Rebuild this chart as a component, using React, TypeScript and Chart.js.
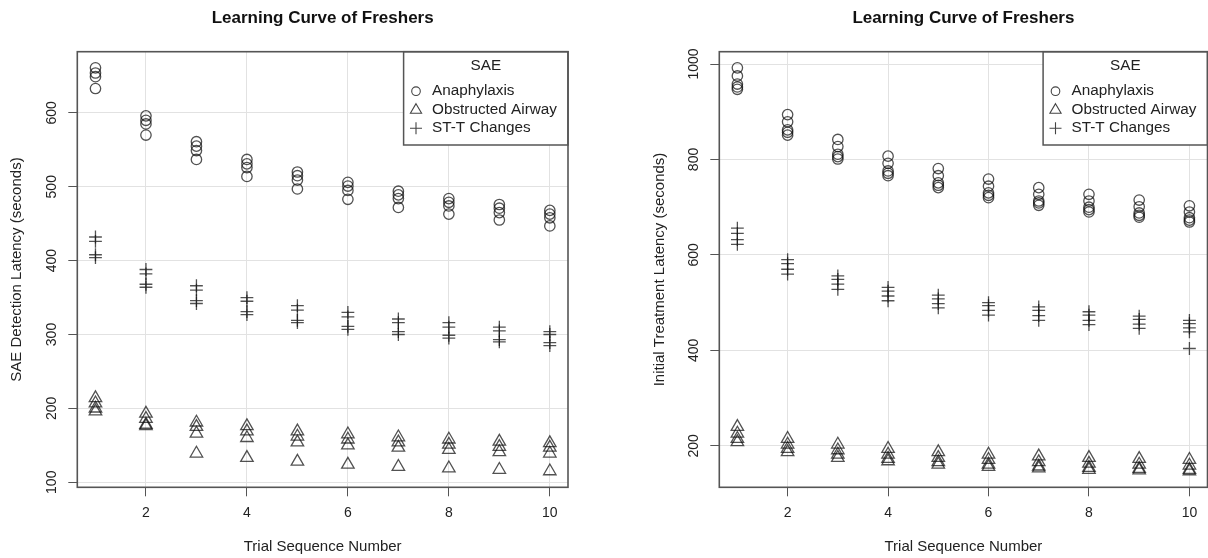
import React, { useEffect, useRef } from 'react';
import { Chart, registerables } from 'chart.js';

Chart.register(...registerables);

const FONT = '"Liberation Sans", Arial, Helvetica, sans-serif';

const trials = [1, 2, 3, 4, 5, 6, 7, 8, 9, 10];
const xTicks = [2, 4, 6, 8, 10];
const leftYTicks = [100, 200, 300, 400, 500, 600];
const rightYTicks = [200, 400, 600, 800, 1000];
const seriesNames = ['Anaphylaxis', 'Obstructed Airway', 'ST-T Changes'];
const chartTitle = 'Learning Curve of Freshers';
const xTitle = 'Trial Sequence Number';
const leftYTitle = 'SAE Detection Latency (seconds)';
const rightYTitle = 'Initial Treatment Latency (seconds)';
const legendTitle = 'SAE';

// SAE detection latency, one row per trial
const detectAnaphylaxis = [
  [661, 654, 649, 633],
  [596, 590, 585, 570],
  [561, 555, 549, 537],
  [537, 531, 526, 514],
  [520, 515, 509, 497],
  [506, 501, 495, 483],
  [494, 489, 484, 472],
  [484, 479, 474, 463],
  [476, 471, 465, 455],
  [468, 463, 458, 447],
];
const detectAirway = [
  [214, 207, 200, 196],
  [193, 186, 178, 176],
  [181, 175, 166, 139],
  [176, 169, 160, 133],
  [169, 162, 154, 128],
  [165, 158, 150, 124],
  [161, 154, 147, 121],
  [158, 151, 144, 119],
  [155, 148, 141, 117],
  [153, 147, 139, 115],
];
const detectSTT = [
  [432, 426, 408, 404],
  [388, 382, 368, 364],
  [366, 360, 346, 342],
  [350, 345, 331, 327],
  [339, 333, 319, 316],
  [330, 324, 311, 307],
  [321, 316, 304, 300],
  [316, 310, 299, 295],
  [310, 305, 293, 290],
  [304, 300, 289, 285],
];

// Initial treatment latency, one row per trial
const treatAnaphylaxis = [
  [992, 975, 958, 952, 947],
  [894, 879, 862, 857, 851],
  [842, 827, 811, 806, 801],
  [807, 792, 776, 771, 766],
  [781, 766, 751, 746, 741],
  [759, 744, 730, 725, 720],
  [741, 727, 713, 709, 704],
  [727, 713, 700, 695, 690],
  [715, 701, 688, 683, 679],
  [703, 690, 678, 673, 669],
];
const treatAirway = [
  [240, 226, 215, 208],
  [215, 203, 194, 187],
  [203, 191, 182, 175],
  [194, 182, 173, 168],
  [187, 175, 166, 161],
  [182, 171, 161, 156],
  [178, 166, 157, 153],
  [175, 163, 154, 150],
  [173, 161, 152, 149],
  [171, 159, 150, 147],
];
const treatSTT = [
  [656, 645, 632, 622],
  [590, 582, 570, 560],
  [556, 549, 539, 528],
  [532, 524, 514, 504],
  [516, 508, 498, 489],
  [500, 494, 484, 474],
  [491, 484, 473, 463],
  [481, 474, 463, 454],
  [472, 465, 455, 446],
  [463, 456, 447, 439, 404],
];

const POINT_COLOR = 'rgba(15,15,15,0.72)';
const BOX_COLOR = '#555';
const TEXT_COLOR = '#222';

function toPoints(rows: number[][]) {
  return trials.flatMap((t, i) => rows[i].map((v) => ({ x: t, y: v })));
}

function rRange(lo: number, hi: number) {
  const d = (hi - lo) * 0.04;
  return [lo - d, hi + d];
}

const boxPlugin = {
  id: 'rbox',
  afterDraw(chart: any) {
    const { ctx, chartArea: a } = chart;
    ctx.save();
    // legend
    const w = 164.4;
    const h = 93.3;
    const left = a.right - w;
    const top = a.top;
    ctx.fillStyle = '#fff';
    ctx.fillRect(left, top, w, h);
    ctx.strokeStyle = BOX_COLOR;
    ctx.lineWidth = 1.5;
    ctx.strokeRect(left, top, w, h);
    ctx.fillStyle = TEXT_COLOR;
    ctx.font = `15.3px ${FONT}`;
    ctx.textBaseline = 'middle';
    ctx.textAlign = 'center';
    ctx.fillText(legendTitle, left + w / 2, top + 14);
    ctx.textAlign = 'left';
    const rows = [39.5, 58, 76.5];
    const sx = left + 12.4;
    ctx.strokeStyle = '#444';
    ctx.lineWidth = 1.1;
    seriesNames.forEach((name, i) => {
      const y = top + rows[i];
      ctx.beginPath();
      if (i === 0) {
        ctx.arc(sx, y, 4.3, 0, Math.PI * 2);
      } else if (i === 1) {
        ctx.moveTo(sx, y - 6);
        ctx.lineTo(sx + 5.6, y + 3.6);
        ctx.lineTo(sx - 5.6, y + 3.6);
        ctx.closePath();
      } else {
        ctx.moveTo(sx - 6, y);
        ctx.lineTo(sx + 6, y);
        ctx.moveTo(sx, y - 6);
        ctx.lineTo(sx, y + 6);
      }
      ctx.stroke();
      ctx.fillText(name, left + 28.4, y);
    });
    // plot box
    ctx.strokeStyle = BOX_COLOR;
    ctx.lineWidth = 1.6;
    ctx.strokeRect(a.left, a.top, a.right - a.left, a.bottom - a.top);
    ctx.restore();
  },
};

type PanelProps = {
  left: number;
  width: number;
  yTitle: string;
  yTicks: number[];
  series: number[][][];
  yAxisWidth: number;
  yTitlePad: number;
  yTickPad: number;
  padRight: number;
};

function Panel(p: PanelProps) {
  const ref = useRef<HTMLCanvasElement>(null);
  useEffect(() => {
    const all = p.series.flatMap((s) => s.flat());
    const [ymin, ymax] = rRange(Math.min(...all), Math.max(...all));
    const [xmin, xmax] = rRange(trials[0], trials[trials.length - 1]);
    const styles: any[] = [
      { pointStyle: 'circle', pointRadius: 5.2 },
      { pointStyle: 'triangle', pointRadius: 7.2 },
      { pointStyle: 'cross', pointRadius: 6.4 },
    ];
    const chart = new Chart(ref.current as HTMLCanvasElement, {
      type: 'scatter',
      data: {
        datasets: p.series.map((rows, i) => ({
          label: seriesNames[i],
          data: toPoints(rows),
          ...styles[i],
          borderColor: POINT_COLOR,
          backgroundColor: 'rgba(0,0,0,0)',
          borderWidth: 1.3,
        })),
      },
      options: {
        responsive: false,
        animation: false,
        devicePixelRatio: 1,
        layout: { padding: { left: 0, right: p.padRight, top: 0, bottom: 0 } },
        plugins: {
          legend: { display: false },
          tooltip: { enabled: false },
          title: {
            display: true,
            text: chartTitle,
            fullSize: false,
            color: '#111',
            font: { family: FONT, size: 17, weight: 'bold' },
            padding: { top: 8.1, bottom: 23.2 },
          },
        },
        scales: {
          x: {
            type: 'linear',
            min: xmin,
            max: xmax,
            afterBuildTicks: (s: any) => {
              s.ticks = xTicks.map((v) => ({ value: v }));
            },
            afterFit: (s: any) => {
              s.height = 70.7;
            },
            ticks: {
              autoSkip: false,
              minRotation: 0,
              maxRotation: 0,
              padding: 8,
              color: TEXT_COLOR,
              font: { family: FONT, size: 14 },
              callback: (v: any) => String(v),
            },
            grid: { color: '#e2e2e2', lineWidth: 1, tickColor: '#555', tickLength: 9 },
            border: { display: false },
            title: {
              display: true,
              text: xTitle,
              color: TEXT_COLOR,
              font: { family: FONT, size: 15 },
              padding: { top: 0, bottom: 2.3 },
            },
          },
          y: {
            type: 'linear',
            min: ymin,
            max: ymax,
            afterBuildTicks: (s: any) => {
              s.ticks = p.yTicks.map((v) => ({ value: v }));
            },
            afterFit: (s: any) => {
              s.width = p.yAxisWidth;
            },
            ticks: {
              autoSkip: false,
              minRotation: 90,
              maxRotation: 90,
              crossAlign: 'center',
              padding: p.yTickPad,
              color: TEXT_COLOR,
              font: { family: FONT, size: 14 },
              callback: (v: any) => String(v),
            },
            grid: { color: '#e2e2e2', lineWidth: 1, tickColor: '#555', tickLength: 9 },
            border: { display: false },
            title: {
              display: true,
              text: p.yTitle,
              color: TEXT_COLOR,
              font: { family: FONT, size: 15 },
              padding: { top: p.yTitlePad, bottom: 0 },
            },
          },
        },
      } as any,
      plugins: [boxPlugin],
    });
    return () => chart.destroy();
  }, []);
  return (
    <canvas
      ref={ref}
      width={p.width}
      height={558}
      style={{ position: 'absolute', left: p.left, top: 0, width: p.width, height: 558 }}
    />
  );
}

export default function App() {
  return (
    <div
      style={{
        position: 'fixed',
        left: 0,
        top: 0,
        width: 1208,
        height: 558,
        overflow: 'hidden',
        background: '#fff',
      }}
    >
      <Panel
        left={0}
        width={604}
        yTitle={leftYTitle}
        yTicks={leftYTicks}
        series={[detectAnaphylaxis, detectAirway, detectSTT]}
        yAxisWidth={77.3}
        yTitlePad={8.2}
        yTickPad={4.9}
        padRight={36}
      />
      <Panel
        left={604}
        width={612}
        yTitle={rightYTitle}
        yTicks={rightYTicks}
        series={[treatAnaphylaxis, treatAirway, treatSTT]}
        yAxisWidth={115.3}
        yTitlePad={47}
        yTickPad={0.7}
        padRight={5.1}
      />
    </div>
  );
}
